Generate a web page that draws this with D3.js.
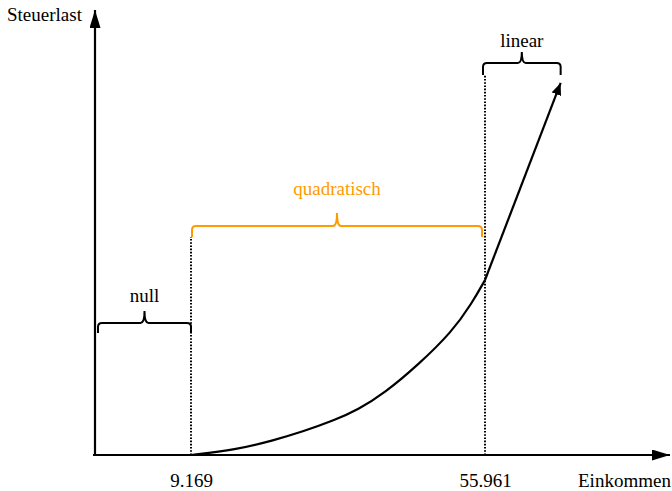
<!DOCTYPE html>
<html>
<head>
<meta charset="utf-8">
<script src="https://cdn.jsdelivr.net/npm/d3@7"></script>
<style>
  html, body { margin: 0; padding: 0; background: #fff; }
  svg { display: block; }
  svg text { font-family: "Liberation Serif", Tinos, "Times New Roman", "DejaVu Serif", serif !important; }
</style>
</head>
<body>
<svg id="chart" width="672" height="491"></svg>
<script>
// ---- data ----
const breakpoints = [9169, 55961];               // income thresholds (x tick values)
const curveIncome = [9169, 16200, 22500, 26800, 32100, 35700, 40000, 45300, 50700, 53900, 55961];
const curveTax    = [0, 450, 1350, 2070, 3150, 4050, 5570, 8090, 11060, 13660, 15730];
const linearIncome = [55961, 68000];
const linearTax    = [15730, 33440];
const zoneLabels = ["null", "quadratisch", "linear"];
const zoneFrom   = [0, 9169, 55961];
const zoneTo     = [9169, 55961, 68000];
const axisLabels = ["Einkommen", "Steuerlast"];
const axisEndIncome = 85400;
const axisEndTax = 40000;

// ---- layout ----
const svg = d3.select("#chart");
const ORANGE = "#ff9a00";
const fontSize = 19;
const FONT = "'Liberation Serif', Tinos, 'Times New Roman', 'DejaVu Serif', serif";

const x = d3.scaleLinear().domain([0, 9169, 55961]).range([95, 191, 485]);
const y = d3.scaleLinear().domain([0, axisEndTax]).range([455, 10]);

const defs = svg.append("defs");
defs.append("marker")
  .attr("id", "axisArrow").attr("markerUnits", "userSpaceOnUse")
  .attr("viewBox", "0 0 18 11").attr("refX", 18).attr("refY", 5.5)
  .attr("markerWidth", 18).attr("markerHeight", 11).attr("orient", "auto")
  .append("path").attr("d", "M0,0 L18,5.5 L0,11 Z").attr("fill", "#000");
defs.append("marker")
  .attr("id", "curveArrow").attr("markerUnits", "userSpaceOnUse")
  .attr("viewBox", "0 0 12 10").attr("refX", 12).attr("refY", 5)
  .attr("markerWidth", 12).attr("markerHeight", 10).attr("orient", "auto")
  .append("path").attr("d", "M0,0 L12,5 L0,10 Z").attr("fill", "#000");

// dotted guide lines
const guideTop = [237, 75];
breakpoints.forEach((b, i) => {
  svg.append("line")
    .attr("x1", x(b)).attr("x2", x(b))
    .attr("y1", y(0)).attr("y2", guideTop[i])
    .attr("stroke", "#000").attr("stroke-width", 2)
    .attr("stroke-dasharray", "1.6,1.6");
});

// axes lines with arrows
svg.append("line")
  .attr("x1", x(0) - 2).attr("y1", y(0)).attr("x2", x(axisEndIncome)).attr("y2", y(0))
  .attr("stroke", "#000").attr("stroke-width", 2.2).attr("marker-end", "url(#axisArrow)");
svg.append("line")
  .attr("x1", x(0)).attr("y1", y(0) + 1).attr("x2", x(0)).attr("y2", y(axisEndTax))
  .attr("stroke", "#000").attr("stroke-width", 2.2).attr("marker-end", "url(#axisArrow)");

// x tick labels via d3 axis
const de = d3.formatLocale({decimal: ",", thousands: ".", grouping: [3], currency: ["", " €"]});
const xAxis = d3.axisBottom(x).tickValues(breakpoints).tickSize(0).tickFormat(de.format(","));
const gx = svg.append("g").attr("transform", `translate(0,${y(0)})`).call(xAxis);
gx.select(".domain").remove();
gx.attr("font-family", FONT).attr("font-size", fontSize);
gx.selectAll("text")
  .attr("y", 32).attr("dy", null)
  .attr("font-family", FONT)
  .attr("font-size", fontSize).attr("fill", "#000");

// axis titles
svg.append("text").attr("x", 578).attr("y", 487).attr("font-family", FONT)
  .attr("font-size", fontSize).attr("fill", "#000").text(axisLabels[0]);
svg.append("text").attr("x", 7).attr("y", 21).attr("font-family", FONT)
  .attr("font-size", fontSize).attr("fill", "#000").text(axisLabels[1]);

// tax curve
const quad = curveIncome.map((v, i) => [x(v), y(curveTax[i])]);
svg.append("path")
  .attr("d", d3.line().curve(d3.curveBasis)(quad))
  .attr("fill", "none").attr("stroke", "#000").attr("stroke-width", 2.2);
const lin = linearIncome.map((v, i) => [x(v), y(linearTax[i])]);
svg.append("path")
  .attr("d", d3.line()(lin))
  .attr("fill", "none").attr("stroke", "#000").attr("stroke-width", 2.2)
  .attr("marker-end", "url(#curveArrow)");

// braces
function brace(x1, x2, yTop, yEnd, yTip) {
  const cx = (x1 + x2) / 2, r = 4;
  return `M${x1},${yEnd} L${x1},${yTop + r} Q${x1},${yTop} ${x1 + r},${yTop}` +
         ` L${cx - r},${yTop} Q${cx},${yTop} ${cx},${yTip}` +
         ` Q${cx},${yTop} ${cx + r},${yTop} L${x2 - r},${yTop}` +
         ` Q${x2},${yTop} ${x2},${yTop + r} L${x2},${yEnd}`;
}
const braceTop  = [323, 226, 63];
const braceTip  = [311, 213, 52];
const braceEnd  = [333, 237, 75];
const braceInsetL = [3, 1, -2];
const braceInsetR = [0, -3, 0];
const braceColor = ["#000", ORANGE, "#000"];
const labelBaseline = [302, 195, 47];
zoneLabels.forEach((lab, i) => {
  const x1 = x(zoneFrom[i]) + braceInsetL[i];
  const x2 = x(zoneTo[i]) + braceInsetR[i];
  svg.append("path")
    .attr("d", brace(x1, x2, braceTop[i], braceEnd[i], braceTip[i]))
    .attr("fill", "none").attr("stroke", braceColor[i]).attr("stroke-width", 2);
  svg.append("text")
    .attr("x", (x1 + x2) / 2).attr("y", labelBaseline[i])
    .attr("text-anchor", "middle").attr("font-family", FONT).attr("font-size", fontSize)
    .attr("fill", braceColor[i]).text(lab);
});
</script>
</body>
</html>
